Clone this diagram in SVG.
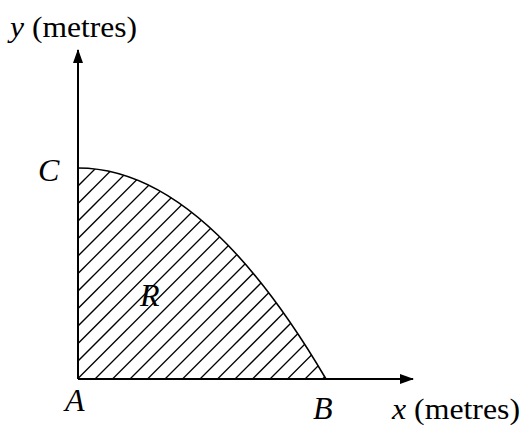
<svg xmlns="http://www.w3.org/2000/svg" width="523" height="426" viewBox="0 0 523 426">
<style>
.lbl{font-family:"Liberation Serif","Times New Roman",serif;font-size:29px;fill:#000}
.big{font-size:32px}
.it{font-style:italic}
.axis{stroke:#000;stroke-width:2;fill:none}
.curve{stroke:#000;stroke-width:1.6;fill:none}
.hatch{stroke:#000;stroke-width:1.3}
</style>
<defs>
<marker id="arr" markerWidth="14" markerHeight="10" refX="13" refY="5" orient="auto" markerUnits="userSpaceOnUse">
<path d="M0,0 L14,5 L0,10 Z" fill="#000"/>
</marker>
<clipPath id="reg"><path d="M78,168 Q202,168 326,379 L78,379 Z"/></clipPath>
</defs>
<g id="region-R">
<g clip-path="url(#reg)" class="hatch">
<line x1="-153.5" y1="400" x2="96.5" y2="150"/>
<line x1="-136" y1="400" x2="114" y2="150"/>
<line x1="-118.5" y1="400" x2="131.5" y2="150"/>
<line x1="-101" y1="400" x2="149" y2="150"/>
<line x1="-83.5" y1="400" x2="166.5" y2="150"/>
<line x1="-66" y1="400" x2="184" y2="150"/>
<line x1="-48.5" y1="400" x2="201.5" y2="150"/>
<line x1="-31" y1="400" x2="219" y2="150"/>
<line x1="-13.5" y1="400" x2="236.5" y2="150"/>
<line x1="4" y1="400" x2="254" y2="150"/>
<line x1="21.5" y1="400" x2="271.5" y2="150"/>
<line x1="39" y1="400" x2="289" y2="150"/>
<line x1="56.5" y1="400" x2="306.5" y2="150"/>
<line x1="74" y1="400" x2="324" y2="150"/>
<line x1="91.5" y1="400" x2="341.5" y2="150"/>
<line x1="109" y1="400" x2="359" y2="150"/>
<line x1="126.5" y1="400" x2="376.5" y2="150"/>
<line x1="144" y1="400" x2="394" y2="150"/>
<line x1="161.5" y1="400" x2="411.5" y2="150"/>
<line x1="179" y1="400" x2="429" y2="150"/>
<line x1="196.5" y1="400" x2="446.5" y2="150"/>
<line x1="214" y1="400" x2="464" y2="150"/>
<line x1="231.5" y1="400" x2="481.5" y2="150"/>
<line x1="249" y1="400" x2="499" y2="150"/>
<line x1="266.5" y1="400" x2="516.5" y2="150"/>
<line x1="284" y1="400" x2="534" y2="150"/>
<line x1="301.5" y1="400" x2="551.5" y2="150"/>
</g>
<path class="curve" d="M78,168 Q202,168 326,379"/>
<text class="lbl big it" x="140" y="306">R</text>
</g>
<g id="connectors">
<line class="axis" x1="78" y1="379" x2="78" y2="50" marker-end="url(#arr)"/>
<line class="axis" x1="78" y1="379" x2="413" y2="379" marker-end="url(#arr)"/>
</g>
<g id="node-y-label"><text class="lbl" x="10" y="37" textLength="127" lengthAdjust="spacingAndGlyphs"><tspan class="it">y</tspan> (metres)</text></g>
<g id="node-C"><text class="lbl big it" x="38" y="181">C</text></g>
<g id="node-A"><text class="lbl big it" x="65" y="411">A</text></g>
<g id="node-B"><text class="lbl big it" x="313" y="419">B</text></g>
<g id="node-x-label"><text class="lbl" x="392" y="419" textLength="128" lengthAdjust="spacingAndGlyphs"><tspan class="it">x</tspan> (metres)</text></g>
</svg>
